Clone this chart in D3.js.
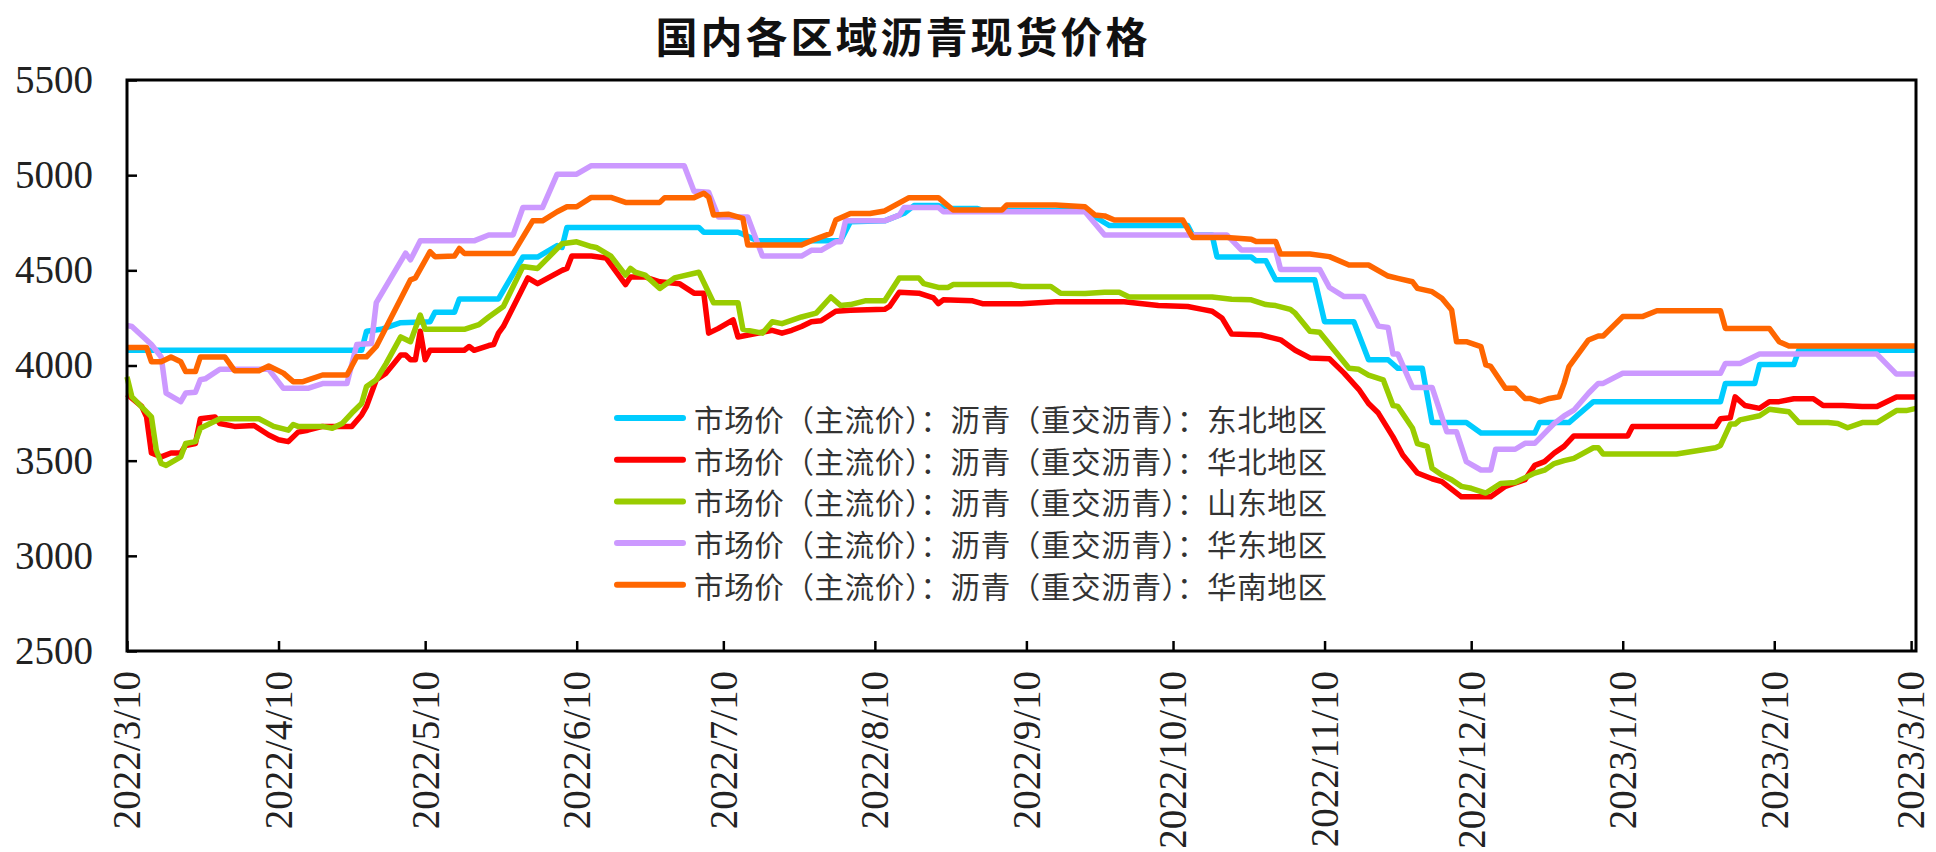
<!DOCTYPE html>
<html>
<head>
<meta charset="utf-8">
<script src="https://cdn.jsdelivr.net/npm/d3@7/dist/d3.min.js"></script>
<style>
  html, body { margin: 0; padding: 0; background: #fff; }
  svg { display: block; }
</style>
</head>
<body>
<svg id="chart" width="1936" height="852"></svg>
<script>
// ---- chart text ----
const chartTitle = "国内各区域沥青现货价格";
const xTickLabels = ["2022/3/10","2022/4/10","2022/5/10","2022/6/10","2022/7/10","2022/8/10",
  "2022/9/10","2022/10/10","2022/11/10","2022/12/10","2023/1/10","2023/2/10","2023/3/10"];
const yTickValues = [2500, 3000, 3500, 4000, 4500, 5000, 5500];
const seriesNames = [
  "市场价（主流价）：沥青（重交沥青）：东北地区",
  "市场价（主流价）：沥青（重交沥青）：华北地区",
  "市场价（主流价）：沥青（重交沥青）：山东地区",
  "市场价（主流价）：沥青（重交沥青）：华东地区",
  "市场价（主流价）：沥青（重交沥青）：华南地区"
];

// ---- series values: [date, 元/吨] ----
const northeast = [["2022/3/10",4080],["2022/4/27",4080],["2022/4/28",4180],["2022/5/1",4190],["2022/5/5",4225],
  ["2022/5/11",4230],["2022/5/12",4280],["2022/5/16",4280],["2022/5/17",4350],["2022/5/25",4350],["2022/5/30",4570],
  ["2022/6/2",4570],["2022/6/6",4630],["2022/6/7",4620],["2022/6/8",4725],["2022/7/5",4725],["2022/7/6",4700],
  ["2022/7/13",4700],["2022/7/14",4690],["2022/7/17",4655],["2022/8/3",4655],["2022/8/5",4755],["2022/8/12",4760],
  ["2022/8/16",4800],["2022/8/18",4840],["2022/8/23",4840],["2022/8/25",4825],["2022/8/31",4825],["2022/9/1",4815],
  ["2022/9/22",4815],["2022/9/26",4750],["2022/9/27",4735],["2022/10/13",4735],["2022/10/14",4685],["2022/10/18",4685],
  ["2022/10/19",4570],["2022/10/26",4570],["2022/10/27",4550],["2022/10/29",4550],["2022/10/31",4450],["2022/11/8",4450],
  ["2022/11/10",4230],["2022/11/16",4230],["2022/11/19",4030],["2022/11/23",4030],["2022/11/25",3985],["2022/11/30",3985],
  ["2022/12/2",3700],["2022/12/9",3700],["2022/12/12",3645],["2022/12/23",3645],["2022/12/24",3700],["2022/12/30",3700],
  ["2023/1/4",3810],["2023/1/30",3810],["2023/1/31",3905],["2023/2/6",3905],["2023/2/7",4005],["2023/2/14",4005],
  ["2023/2/15",4080],["2023/3/11",4080]];

const northChina = [["2022/3/10",3850],["2022/3/13",3785],["2022/3/14",3730],["2022/3/15",3540],["2022/3/17",3520],
  ["2022/3/19",3540],["2022/3/21",3540],["2022/3/22",3580],["2022/3/24",3590],["2022/3/25",3720],["2022/3/28",3730],
  ["2022/3/29",3695],["2022/4/1",3680],["2022/4/5",3685],["2022/4/8",3635],["2022/4/10",3610],["2022/4/12",3600],
  ["2022/4/14",3650],["2022/4/16",3660],["2022/4/19",3680],["2022/4/25",3680],["2022/4/27",3740],["2022/4/28",3785],
  ["2022/4/30",3925],["2022/5/2",3960],["2022/5/5",4055],["2022/5/6",4055],["2022/5/7",4030],["2022/5/8",4030],
  ["2022/5/9",4180],["2022/5/10",4030],["2022/5/11",4080],["2022/5/18",4080],["2022/5/19",4100],["2022/5/20",4080],
  ["2022/5/23",4105],["2022/5/24",4110],["2022/5/25",4170],["2022/5/26",4205],["2022/5/31",4460],["2022/6/2",4430],
  ["2022/6/7",4500],["2022/6/8",4510],["2022/6/9",4575],["2022/6/13",4575],["2022/6/16",4565],["2022/6/20",4425],
  ["2022/6/21",4465],["2022/6/24",4465],["2022/6/27",4440],["2022/7/1",4430],["2022/7/4",4380],["2022/7/6",4380],
  ["2022/7/7",4170],["2022/7/9",4195],["2022/7/12",4240],["2022/7/13",4150],["2022/7/19",4180],["2022/7/20",4185],
  ["2022/7/22",4170],["2022/7/24",4185],["2022/7/26",4205],["2022/7/28",4230],["2022/7/30",4235],["2022/8/2",4285],
  ["2022/8/5",4290],["2022/8/12",4295],["2022/8/13",4310],["2022/8/15",4385],["2022/8/19",4380],["2022/8/22",4355],
  ["2022/8/23",4325],["2022/8/24",4345],["2022/8/30",4340],["2022/9/1",4325],["2022/9/9",4325],["2022/9/16",4335],
  ["2022/9/30",4335],["2022/10/7",4315],["2022/10/13",4310],["2022/10/16",4295],["2022/10/18",4285],["2022/10/20",4250],
  ["2022/10/22",4165],["2022/10/28",4160],["2022/11/1",4135],["2022/11/4",4080],["2022/11/7",4040],["2022/11/11",4035],
  ["2022/11/14",3960],["2022/11/17",3875],["2022/11/19",3800],["2022/11/21",3750],["2022/11/24",3625],["2022/11/26",3530],
  ["2022/11/29",3435],["2022/12/2",3405],["2022/12/4",3390],["2022/12/8",3310],["2022/12/14",3310],["2022/12/17",3365],
  ["2022/12/21",3400],["2022/12/23",3475],["2022/12/25",3495],["2022/12/27",3540],["2022/12/29",3575],["2022/12/31",3630],
  ["2023/1/11",3630],["2023/1/12",3680],["2023/1/29",3680],["2023/1/30",3720],["2023/2/1",3725],["2023/2/2",3835],
  ["2023/2/4",3790],["2023/2/7",3775],["2023/2/9",3810],["2023/2/11",3810],["2023/2/14",3825],["2023/2/18",3825],
  ["2023/2/20",3790],["2023/2/24",3790],["2023/2/28",3785],["2023/3/3",3785],["2023/3/7",3835],["2023/3/11",3835]];

const shandong = [["2022/3/10",3940],["2022/3/11",3835],["2022/3/15",3730],["2022/3/16",3555],["2022/3/17",3485],
  ["2022/3/18",3475],["2022/3/21",3520],["2022/3/22",3590],["2022/3/24",3600],["2022/3/25",3670],["2022/3/29",3720],
  ["2022/4/6",3720],["2022/4/9",3680],["2022/4/12",3660],["2022/4/13",3690],["2022/4/14",3680],["2022/4/19",3680],
  ["2022/4/21",3670],["2022/4/23",3695],["2022/4/25",3750],["2022/4/27",3800],["2022/4/28",3890],["2022/4/30",3925],
  ["2022/5/2",4010],["2022/5/5",4150],["2022/5/7",4125],["2022/5/9",4265],["2022/5/10",4190],["2022/5/18",4190],
  ["2022/5/21",4215],["2022/5/23",4255],["2022/5/26",4310],["2022/5/30",4520],["2022/6/2",4510],["2022/6/7",4640],
  ["2022/6/10",4650],["2022/6/13",4625],["2022/6/14",4620],["2022/6/17",4575],["2022/6/20",4475],["2022/6/21",4510],
  ["2022/6/22",4490],["2022/6/24",4475],["2022/6/27",4405],["2022/6/30",4460],["2022/7/5",4490],["2022/7/8",4330],
  ["2022/7/13",4330],["2022/7/14",4190],["2022/7/18",4170],["2022/7/20",4230],["2022/7/22",4220],["2022/7/26",4255],
  ["2022/7/29",4275],["2022/8/1",4360],["2022/8/3",4315],["2022/8/5",4320],["2022/8/8",4340],["2022/8/12",4340],
  ["2022/8/15",4460],["2022/8/19",4460],["2022/8/20",4430],["2022/8/23",4410],["2022/8/25",4410],["2022/8/26",4425],
  ["2022/9/7",4425],["2022/9/9",4415],["2022/9/15",4415],["2022/9/17",4380],["2022/9/22",4378],["2022/9/26",4385],
  ["2022/9/29",4385],["2022/10/1",4360],["2022/10/18",4360],["2022/10/22",4348],["2022/10/26",4345],["2022/10/29",4320],
  ["2022/10/31",4315],["2022/11/3",4295],["2022/11/4",4275],["2022/11/7",4180],["2022/11/9",4175],["2022/11/12",4080],
  ["2022/11/15",3985],["2022/11/17",3980],["2022/11/19",3950],["2022/11/22",3925],["2022/11/24",3790],["2022/11/25",3785],
  ["2022/11/28",3670],["2022/11/29",3590],["2022/12/1",3575],["2022/12/2",3460],["2022/12/4",3425],["2022/12/6",3400],
  ["2022/12/8",3365],["2022/12/10",3355],["2022/12/13",3330],["2022/12/16",3380],["2022/12/19",3385],["2022/12/23",3435],
  ["2022/12/25",3450],["2022/12/27",3485],["2022/12/29",3500],["2022/12/31",3512],["2023/1/4",3568],["2023/1/5",3568],
  ["2023/1/6",3535],["2023/1/21",3535],["2023/1/29",3568],["2023/1/30",3580],["2023/2/1",3692],["2023/2/2",3692],
  ["2023/2/3",3714],["2023/2/7",3736],["2023/2/9",3770],["2023/2/13",3757],["2023/2/15",3701],["2023/2/21",3701],
  ["2023/2/23",3695],["2023/2/25",3673],["2023/2/28",3700],["2023/3/3",3700],["2023/3/7",3763],["2023/3/9",3763],
  ["2023/3/11",3775]];

const eastChina = [["2022/3/10",4210],["2022/3/11",4205],["2022/3/15",4110],["2022/3/17",4045],["2022/3/18",3855],
  ["2022/3/21",3810],["2022/3/22",3855],["2022/3/24",3860],["2022/3/25",3925],["2022/3/26",3930],["2022/3/29",3980],
  ["2022/4/8",3980],["2022/4/11",3880],["2022/4/16",3880],["2022/4/19",3905],["2022/4/24",3905],["2022/4/26",4110],
  ["2022/4/29",4115],["2022/4/30",4330],["2022/5/6",4590],["2022/5/7",4555],["2022/5/9",4655],["2022/5/20",4655],
  ["2022/5/23",4686],["2022/5/28",4686],["2022/5/30",4830],["2022/6/3",4830],["2022/6/6",5005],["2022/6/10",5005],
  ["2022/6/13",5050],["2022/7/2",5050],["2022/7/4",4915],["2022/7/7",4910],["2022/7/9",4780],["2022/7/15",4780],
  ["2022/7/18",4575],["2022/7/26",4575],["2022/7/28",4605],["2022/7/30",4605],["2022/8/2",4650],["2022/8/3",4650],
  ["2022/8/4",4760],["2022/8/12",4760],["2022/8/15",4790],["2022/8/16",4830],["2022/8/23",4830],["2022/8/24",4808],
  ["2022/9/22",4808],["2022/9/26",4686],["2022/10/21",4686],["2022/10/24",4607],["2022/10/31",4607],["2022/11/1",4505],
  ["2022/11/9",4505],["2022/11/11",4410],["2022/11/14",4362],["2022/11/18",4362],["2022/11/21",4207],["2022/11/23",4200],
  ["2022/11/24",4060],["2022/11/25",4060],["2022/11/28",3885],["2022/12/2",3885],["2022/12/5",3652],["2022/12/7",3652],
  ["2022/12/9",3495],["2022/12/12",3451],["2022/12/14",3451],["2022/12/15",3560],["2022/12/19",3560],["2022/12/21",3591],
  ["2022/12/23",3591],["2022/12/27",3696],["2022/12/29",3735],["2022/12/31",3765],["2023/1/3",3854],["2023/1/5",3906],
  ["2023/1/6",3906],["2023/1/10",3959],["2023/1/30",3959],["2023/1/31",4011],["2023/2/3",4011],["2023/2/7",4060],
  ["2023/3/3",4060],["2023/3/7",3955],["2023/3/11",3955]];

const southChina = [["2022/3/10",4095],["2022/3/14",4095],["2022/3/15",4020],["2022/3/17",4020],["2022/3/19",4045],
  ["2022/3/21",4020],["2022/3/22",3968],["2022/3/24",3968],["2022/3/25",4045],["2022/3/30",4045],["2022/4/1",3973],
  ["2022/4/6",3973],["2022/4/8",3997],["2022/4/11",3960],["2022/4/13",3915],["2022/4/15",3915],["2022/4/19",3950],
  ["2022/4/24",3950],["2022/4/26",4046],["2022/4/28",4046],["2022/4/30",4100],["2022/5/7",4450],["2022/5/8",4460],
  ["2022/5/11",4598],["2022/5/12",4572],["2022/5/16",4575],["2022/5/17",4615],["2022/5/18",4589],["2022/5/28",4589],
  ["2022/6/1",4760],["2022/6/3",4760],["2022/6/6",4808],["2022/6/8",4834],["2022/6/10",4834],["2022/6/13",4883],
  ["2022/6/17",4883],["2022/6/20",4857],["2022/6/27",4857],["2022/6/28",4882],["2022/7/4",4882],["2022/7/6",4905],
  ["2022/7/7",4885],["2022/7/8",4791],["2022/7/11",4795],["2022/7/14",4773],["2022/7/15",4633],["2022/7/26",4633],
  ["2022/7/28",4656],["2022/8/1",4694],["2022/8/2",4764],["2022/8/5",4799],["2022/8/9",4799],["2022/8/12",4812],
  ["2022/8/17",4882],["2022/8/23",4882],["2022/8/26",4817],["2022/9/5",4817],["2022/9/6",4843],["2022/9/16",4843],
  ["2022/9/22",4834],["2022/9/24",4791],["2022/9/26",4786],["2022/9/28",4764],["2022/10/12",4764],["2022/10/14",4673],
  ["2022/10/21",4673],["2022/10/26",4663],["2022/10/27",4651],["2022/10/31",4651],["2022/11/1",4586],["2022/11/7",4586],
  ["2022/11/11",4572],["2022/11/15",4528],["2022/11/19",4528],["2022/11/23",4470],["2022/11/25",4458],["2022/11/28",4440],
  ["2022/11/29",4405],["2022/12/2",4388],["2022/12/4",4353],["2022/12/6",4292],["2022/12/7",4125],["2022/12/9",4125],
  ["2022/12/12",4099],["2022/12/13",4003],["2022/12/14",3995],["2022/12/17",3880],["2022/12/19",3880],["2022/12/21",3827],
  ["2022/12/22",3827],["2022/12/24",3810],["2022/12/26",3827],["2022/12/28",3836],["2022/12/29",3906],["2022/12/30",3994],
  ["2023/1/3",4134],["2023/1/5",4155],["2023/1/6",4155],["2023/1/10",4257],["2023/1/14",4257],["2023/1/17",4288],
  ["2023/1/30",4288],["2023/1/31",4195],["2023/2/9",4195],["2023/2/11",4125],["2023/2/13",4102],["2023/3/11",4102]];

const seriesData = [northeast, northChina, shandong, eastChina, southChina];
const seriesColors = ["#00CCFF", "#FF0000", "#99CC00", "#CC99FF", "#FF6600"];

// ---- drawing ----
const W = 1936, H = 852;
const plot = { left: 127, right: 1916, top: 80, bottom: 651 };
const parseDate = d3.timeParse("%Y/%m/%d");

const svg = d3.select("#chart");
svg.append("rect").attr("width", W).attr("height", H).attr("fill", "#fff");

const x = d3.scaleTime()
  .domain([parseDate("2022/3/10"), parseDate("2023/3/11")])
  .range([plot.left, plot.right]);
const y = d3.scaleLinear()
  .domain([2500, 5500])
  .range([plot.bottom, plot.top]);

const numFont = "'Liberation Serif', 'Times New Roman', serif";
const cjkFont = "'Noto Sans CJK SC', 'Noto Sans', sans-serif";

// title
svg.append("text")
  .attr("x", 903).attr("y", 34)
  .attr("text-anchor", "middle")
  .attr("dominant-baseline", "central")
  .attr("font-family", cjkFont)
  .attr("font-weight", "bold")
  .attr("font-size", 42)
  .attr("letter-spacing", 3)
  .attr("fill", "#111")
  .text(chartTitle);

// y axis (ticks point into the plot)
const yAxis = d3.axisLeft(y)
  .tickValues(yTickValues)
  .tickFormat(d3.format("d"))
  .tickSize(-10)
  .tickPadding(34);
const gy = svg.append("g")
  .attr("transform", `translate(${plot.left},0)`)
  .call(yAxis);
gy.select(".domain").remove();
gy.selectAll(".tick line").attr("stroke", "#000").attr("stroke-width", 2.5);
gy.selectAll(".tick text")
  .attr("font-family", numFont)
  .attr("font-size", 39)
  .attr("fill", "#222");

// x axis: monthly ticks on the 10th, labels rotated
const xAxis = d3.axisBottom(x)
  .tickValues(xTickLabels.map(parseDate))
  .tickFormat(d3.timeFormat("%Y/%-m/%-d"))
  .tickSize(-10);
const gx = svg.append("g")
  .attr("transform", `translate(0,${plot.bottom})`)
  .call(xAxis);
gx.select(".domain").remove();
gx.selectAll(".tick line").attr("stroke", "#000").attr("stroke-width", 2.5);
gx.selectAll(".tick text")
  .attr("font-family", numFont)
  .attr("font-size", 39)
  .attr("fill", "#222")
  .attr("transform", "rotate(-90)")
  .attr("text-anchor", "end")
  .attr("x", -20)
  .attr("y", 0)
  .attr("dy", "0.33em");

// series lines
const line = d3.line()
  .x(d => x(d.date))
  .y(d => y(d.value));

const series = seriesData.map((arr, i) => ({
  name: seriesNames[i],
  color: seriesColors[i],
  values: arr.map(([d, v]) => ({ date: parseDate(d), value: v }))
}));

svg.append("g")
  .selectAll("path")
  .data(series)
  .join("path")
  .attr("d", d => line(d.values))
  .attr("fill", "none")
  .attr("stroke", d => d.color)
  .attr("stroke-width", 5.5)
  .attr("stroke-linejoin", "round")
  .attr("stroke-linecap", "butt");

// plot frame
svg.append("rect")
  .attr("x", plot.left).attr("y", plot.top)
  .attr("width", plot.right - plot.left)
  .attr("height", plot.bottom - plot.top)
  .attr("fill", "none")
  .attr("stroke", "#000")
  .attr("stroke-width", 3);

// legend
const legend = svg.append("g").attr("transform", "translate(614,418)");
const rows = legend.selectAll("g")
  .data(series)
  .join("g")
  .attr("transform", (d, i) => `translate(0,${i * 41.7})`);
rows.append("line")
  .attr("x1", 3).attr("x2", 69)
  .attr("y1", 0).attr("y2", 0)
  .attr("stroke", d => d.color)
  .attr("stroke-width", 6)
  .attr("stroke-linecap", "round");
rows.append("text")
  .attr("x", 80).attr("y", 0)
  .attr("dominant-baseline", "central")
  .attr("font-family", cjkFont)
  .attr("font-size", 29.5)
  .attr("textLength", 633)
  .attr("lengthAdjust", "spacing")
  .attr("fill", "#333")
  .text(d => d.name);
</script>
</body>
</html>
